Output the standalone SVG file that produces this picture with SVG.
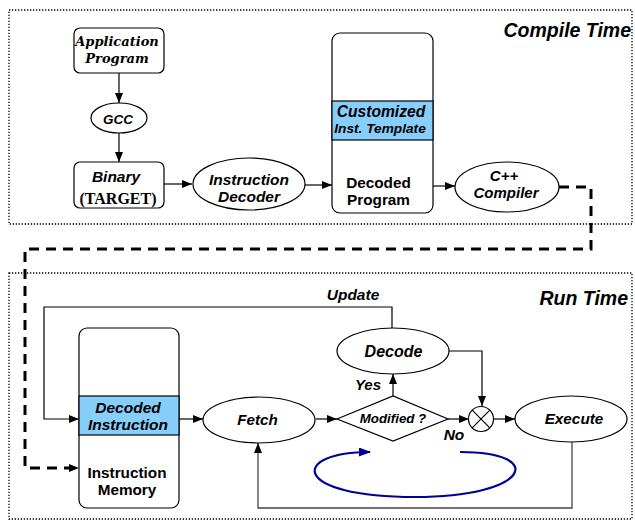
<svg xmlns="http://www.w3.org/2000/svg" width="635" height="521" viewBox="0 0 635 521">
<style>
.frame{fill:none;stroke:#000;stroke-width:1.3;stroke-dasharray:1.3 1.7}
.node{fill:#fff;stroke:#000;stroke-width:1.2}
.band{fill:#87cefa;stroke:#000;stroke-width:1.2}
.ln{fill:none;stroke:#000;stroke-width:1.2}
.t{font-family:"Liberation Sans",Arial,sans-serif;font-weight:bold;font-style:italic;text-anchor:middle;fill:#000}
.tn{font-family:"Liberation Sans",Arial,sans-serif;font-weight:bold;text-anchor:middle;fill:#000}
.ts{font-family:"DejaVu Serif","Liberation Serif",serif;font-weight:bold;font-style:italic;text-anchor:middle;fill:#000}
.title{font-family:"Liberation Sans",Arial,sans-serif;font-weight:bold;font-style:italic;text-anchor:end;font-size:19.5px;fill:#000}
</style>
<defs>
<marker id="ah" markerWidth="10" markerHeight="8" refX="10" refY="4" orient="auto" markerUnits="userSpaceOnUse"><path d="M0,0 L10,4 L0,8 z" fill="#000"/></marker>
<marker id="ahb" markerWidth="12" markerHeight="9" refX="11" refY="4.5" orient="auto" markerUnits="userSpaceOnUse"><path d="M0,0 L12,4.5 L0,9 z" fill="#000099"/></marker>
</defs>

<g id="frames">
<rect class="frame" x="9" y="10" width="623" height="214"/>
<rect class="frame" x="9" y="273" width="623" height="246"/>
<text class="title" x="631" y="37">Compile Time</text>
<text class="title" x="628" y="305">Run Time</text>
</g>

<g id="connectors">
<line class="ln" x1="119" y1="73" x2="119" y2="103" marker-end="url(#ah)"/>
<line class="ln" x1="119" y1="133" x2="119" y2="162" marker-end="url(#ah)"/>
<line class="ln" x1="164" y1="184" x2="192" y2="184" marker-end="url(#ah)"/>
<line class="ln" x1="305" y1="185" x2="332" y2="185" marker-end="url(#ah)"/>
<line class="ln" x1="433" y1="186" x2="455" y2="186" marker-end="url(#ah)"/>
<path d="M559,187 H591 V249 H25 V468 H79" fill="none" stroke="#000" stroke-width="3" stroke-dasharray="10 7" marker-end="url(#ah)"/>
<path class="ln" d="M392,328 V307 H44 V419 H79" marker-end="url(#ah)"/>
<line class="ln" x1="179" y1="419" x2="203" y2="419" marker-end="url(#ah)"/>
<line class="ln" x1="316" y1="419" x2="337" y2="419" marker-end="url(#ah)"/>
<line class="ln" x1="393" y1="396" x2="393" y2="374" marker-end="url(#ah)"/>
<path class="ln" d="M449,351 H482 V406" marker-end="url(#ah)"/>
<line class="ln" x1="448" y1="419" x2="469" y2="419" marker-end="url(#ah)"/>
<line class="ln" x1="494" y1="419" x2="515" y2="419" marker-end="url(#ah)"/>
<path d="M572,442 V508 H258 V443" fill="none" stroke="#444" stroke-width="1.3" marker-end="url(#ah)"/>
<path d="M460,452 C548,452 530,497 415,497 C290,497 290,452 370,452" fill="none" stroke="#000099" stroke-width="2.2" marker-end="url(#ahb)"/>
<text class="t" x="353" y="300" font-size="15.5">Update</text>
<text class="t" x="368" y="390" font-size="15">Yes</text>
<text class="t" x="454" y="440" font-size="15.5">No</text>
</g>

<g id="app">
<rect class="node" x="74" y="28" width="90" height="45" rx="6"/>
<text class="ts" x="117" y="46" font-size="13">Application</text>
<text class="ts" x="117" y="63" font-size="13">Program</text>
</g>

<g id="gcc">
<ellipse class="node" cx="119" cy="118" rx="28" ry="15"/>
<text class="t" x="118" y="124" font-size="13.5">GCC</text>
</g>

<g id="binary">
<rect class="node" x="74" y="162" width="90" height="46" rx="6"/>
<text class="t" x="116" y="182" font-size="15.5">Binary</text>
<text x="118" y="204" font-size="16" font-family="Liberation Serif,'Times New Roman',serif" font-weight="bold" text-anchor="middle">(TARGET)</text>
</g>

<g id="idecoder">
<ellipse class="node" cx="249" cy="184" rx="56" ry="26"/>
<text class="t" x="249" y="185" font-size="15.5">Instruction</text>
<text class="t" x="249" y="202" font-size="15.5">Decoder</text>
</g>

<g id="decoded-program">
<rect class="node" x="332" y="33" width="101" height="180" rx="8"/>
<rect class="band" x="332" y="101" width="101" height="39"/>
<text class="t" x="381" y="117" font-size="15.6">Customized</text>
<text class="t" x="380" y="133" font-size="13.7">Inst. Template</text>
<text class="tn" x="378.5" y="188" font-size="15.3">Decoded</text>
<text class="tn" x="378.5" y="205" font-size="15.3">Program</text>
</g>

<g id="cpp">
<ellipse class="node" cx="507" cy="187" rx="52" ry="25"/>
<text class="t" x="504" y="181" font-size="15">C++</text>
<text class="t" x="506" y="198" font-size="15">Compiler</text>
</g>

<g id="imem">
<rect class="node" x="79" y="328" width="100" height="180" rx="8"/>
<rect class="band" x="79" y="396" width="100" height="39"/>
<text class="t" x="128" y="413" font-size="15.5">Decoded</text>
<text class="t" x="128" y="430" font-size="15.5">Instruction</text>
<text class="tn" x="127" y="478" font-size="15.3">Instruction</text>
<text class="tn" x="127" y="495" font-size="15.3">Memory</text>
</g>

<g id="fetch">
<ellipse class="node" cx="259" cy="420" rx="56" ry="23"/>
<text class="t" x="257.5" y="425" font-size="15.2">Fetch</text>
</g>

<g id="modified">
<polygon class="node" points="337,419 393,396 448,419 393,441"/>
<text class="t" x="393" y="423" font-size="13.3">Modified ?</text>
</g>

<g id="decode">
<ellipse class="node" cx="393" cy="351" rx="56" ry="23"/>
<text class="t" x="393.5" y="357" font-size="16">Decode</text>
</g>

<g id="merge">
<circle class="node" cx="481" cy="419" r="12.5"/>
<path class="ln" d="M472.2,410.2 L489.8,427.8 M489.8,410.2 L472.2,427.8"/>
</g>

<g id="execute">
<ellipse class="node" cx="571" cy="419" rx="56" ry="23"/>
<text class="t" x="574" y="424" font-size="15.3">Execute</text>
</g>
</svg>
